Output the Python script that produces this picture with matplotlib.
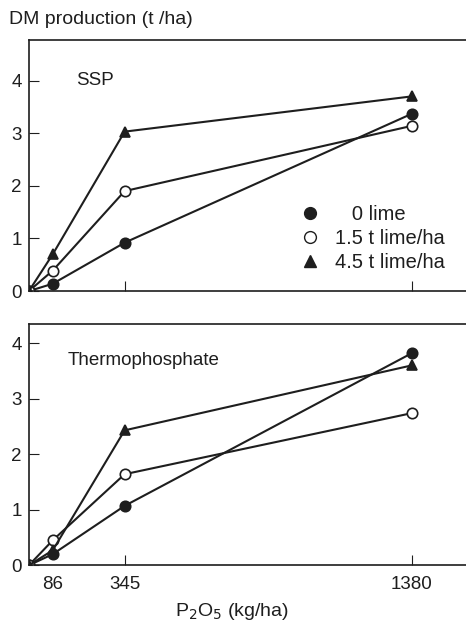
import matplotlib
matplotlib.use('Agg')
import matplotlib.pyplot as plt

p2o5 = [0, 86, 345, 1380]
labels = ['   0 lime', '1.5 t lime/ha', '4.5 t lime/ha']

# SSP panel
ssp_0 = [0, 0.14, 0.92, 3.37]
ssp_15 = [0, 0.39, 1.9, 3.14]
ssp_45 = [0, 0.7, 3.03, 3.7]

# Thermophosphate panel
th_0 = [0, 0.2, 1.07, 3.82]
th_15 = [0, 0.45, 1.64, 2.74]
th_45 = [0, 0.27, 2.43, 3.6]

plt.rcParams['font.family'] = ['Liberation Sans', 'DejaVu Sans']
ink = '#1e1e1e'
styles = [dict(marker='o', mfc=ink), dict(marker='o', mfc='white'), dict(marker='^', mfc=ink)]

fig = plt.figure(figsize=(4.66, 6.26), dpi=100)
ax1 = fig.add_axes([0.062, 0.535, 0.938, 0.401])
ax2 = fig.add_axes([0.062, 0.097, 0.938, 0.385])

def panel(ax, series, ymax, name, tx, ty):
    for ys, st in zip(series, styles):
        ax.plot(p2o5, ys, color=ink, lw=1.5, ms=7.5, mec=ink, mew=1.2, **st)
    ax.set_xlim(0, 1575)
    ax.set_ylim(0, ymax)
    ax.spines['right'].set_visible(False)
    for s in ax.spines.values():
        s.set_color(ink)
        s.set_linewidth(1.2)
    ax.set_yticks([0, 1, 2, 3, 4])
    ax.tick_params(direction='in', length=7, color=ink, labelsize=13.5, labelcolor=ink, pad=8)
    ax.tick_params(axis='y', pad=5)
    ax.text(tx, ty, name, transform=ax.transAxes, fontsize=13.5, color=ink)

panel(ax1, [ssp_0, ssp_15, ssp_45], 4.77, 'SSP', 0.107, 0.82)
panel(ax2, [th_0, th_15, th_45], 4.34, 'Thermophosphate', 0.089, 0.83)

ax1.set_xticks([345, 1380])
ax1.set_xticklabels([])
ax2.set_xticks([86, 345, 1380])
ax2.set_xticklabels(['86', '345', '1380'])
ax2.xaxis.get_major_ticks()[0].tick1line.set_visible(False)

hs = [plt.Line2D([], [], ls='none', color=ink, mec=ink, ms=8.5, **st) for st in styles]
ax1.legend(hs, labels, loc='upper left', bbox_to_anchor=(0.575, 0.415), frameon=False,
           fontsize=14.5, handletextpad=0.6, labelspacing=0.25, handlelength=1.2,
           labelcolor=ink)

fig.text(0.02, 0.962, 'DM production (t /ha)', fontsize=14, color=ink)
fig.text(0.497, 0.016, r'P$_2$O$_5$ (kg/ha)', fontsize=14, color=ink, ha='center')

fig.savefig('out.png', dpi=100)
